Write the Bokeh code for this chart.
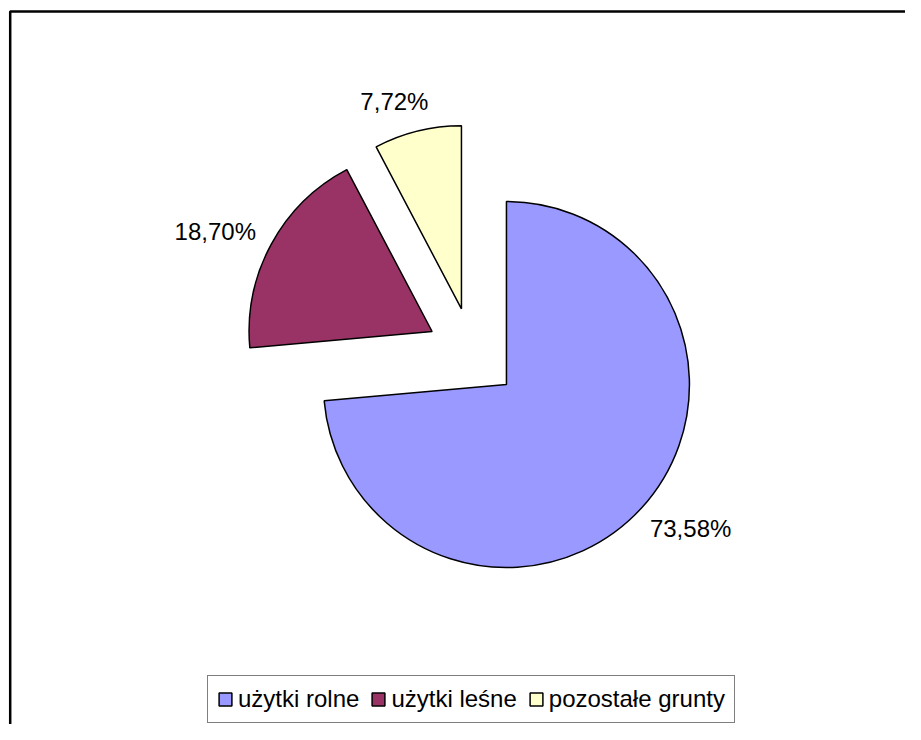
import math
from bokeh.plotting import figure
from bokeh.models import Range1d, ColumnDataSource, Legend, LegendItem
from bokeh.embed import file_html
from bokeh.resources import INLINE
from bokeh.core.properties import value

# ---- data ----
categories = ["użytki rolne", "użytki leśne", "pozostałe grunty"]
shares = [73.58, 18.70, 7.72]
labels = ["73,58%", "18,70%", "7,72%"]
colors = ["#9999FF", "#993366", "#FFFFCC"]

# ---- layout (canvas pixel coordinates; y is negated) ----
W, H = 905, 724
CX, CY = 472.0, -353.0   # pie centre
R = 183.0                # radius
D = 46.0                 # explode distance
GAP = 14.0
FS = 24
LABEL_ROT = 3.4          # label direction tweak (degrees, anticlockwise)

p = figure(width=W, height=H, output_backend="svg", toolbar_location=None,
           x_range=Range1d(0, W), y_range=Range1d(-H, 0),
           x_axis_location=None, y_axis_location=None, min_border=0)
p.grid.visible = False
p.outline_line_color = None
p.background_fill_color = "white"
p.border_fill_color = "white"

# outer chart frame
p.quad(left=[9.7], right=[2000], top=[-11], bottom=[-2000],
       fill_color=None, line_color="black", line_width=2.5)

total = sum(shares)
xs, ys, st, en, lx, ly = [], [], [], [], [], []
theta = 0.0
for s, lab in zip(shares, labels):
    a0 = theta
    a1 = theta + 360.0 * s / total
    theta = a1
    m = math.radians((a0 + a1) / 2)
    ux, uy = math.sin(m), math.cos(m)
    xs.append(CX + D * ux)
    ys.append(CY + D * uy)
    st.append(math.radians(90 - a1))
    en.append(math.radians(90 - a0))
    hw = 0.28 * FS * len(lab)
    hh = FS / 2
    dist = R + D + GAP + abs(ux) * hw + abs(uy) * hh
    ml = math.radians((a0 + a1) / 2 - LABEL_ROT)
    lx.append(CX + dist * math.sin(ml))
    ly.append(CY + dist * math.cos(ml) + 1.5)

src = ColumnDataSource(dict(x=xs, y=ys, start=st, end=en, color=colors, cat=categories))
wr = p.wedge(x="x", y="y", radius=R, start_angle="start", end_angle="end",
             fill_color="color", line_color="black", line_width=1.5, source=src)

lsrc = ColumnDataSource(dict(x=lx, y=ly, text=labels))
p.text(x="x", y="y", text="text", source=lsrc, text_font=value("Liberation Sans"),
       text_font_size=f"{FS}px", text_align="center", text_baseline="middle",
       text_color="black")

legend = Legend(items=[LegendItem(label=categories[i], renderers=[wr], index=i) for i in range(3)],
                orientation="horizontal", location=(207, 1),
                label_text_font="Liberation Sans", label_text_font_size=f"{FS}px",
                label_text_color="black",
                glyph_width=16, glyph_height=16, label_standoff=5, spacing=11,
                padding=9, margin=0, border_line_color="black", border_line_width=1,
                background_fill_color="white", background_fill_alpha=1.0)
p.add_layout(legend)

open("out.html", "w").write(file_html(p, INLINE))
